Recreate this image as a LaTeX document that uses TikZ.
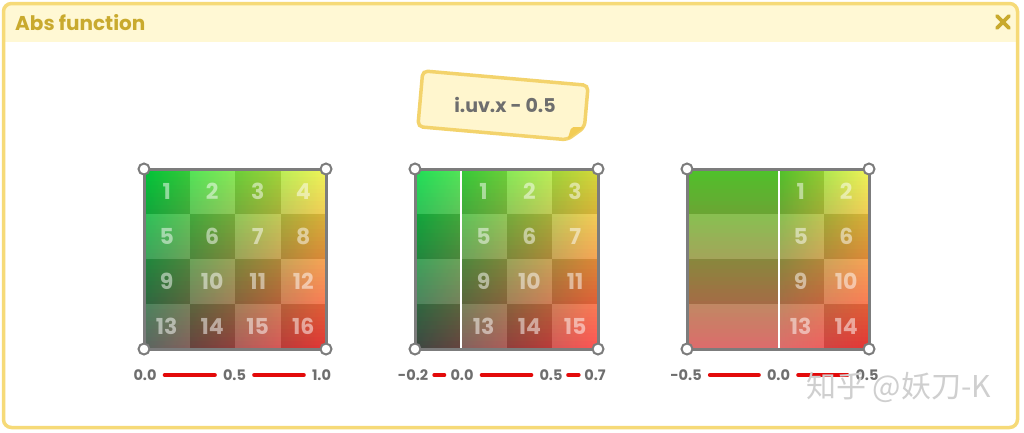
\documentclass[tikz,border=0pt]{standalone}
\usepackage{fontspec}
\setmainfont{Poppins}
\newfontfamily\cjk{Noto Sans CJK SC}
\definecolor{frameY}{HTML}{F6DA78}
\definecolor{barY}{HTML}{FFF8D4}
\definecolor{titleY}{HTML}{C9AA2E}
\definecolor{noteFill}{HTML}{FFF6CE}
\definecolor{noteLine}{HTML}{F3D36C}
\definecolor{foldY}{HTML}{F2CC55}
\definecolor{gridGray}{HTML}{7C7C7C}
\definecolor{txtGray}{HTML}{6E6E6E}
\definecolor{axisRed}{HTML}{E30A0A}
\definecolor{wmGray}{HTML}{CFCFCF}
\definecolor{gTL}{HTML}{00DC40}
\definecolor{gTR}{HTML}{EEF440}
\definecolor{gBL}{HTML}{44504A}
\definecolor{gBR}{HTML}{FF3C3C}
\definecolor{hTL}{HTML}{58D830}
\definecolor{hTR}{HTML}{EEF440}
\definecolor{hBL}{HTML}{D85858}
\definecolor{hBR}{HTML}{FF3C3C}
\newcommand\bilinpatch[8]{%
  \foreach \k in {0,...,44}{%
    \pgfmathsetmacro\pa{100*(\k+0.5)/45}%
    \colorlet{cL}{#7!\pa!#5}%
    \colorlet{cR}{#8!\pa!#6}%
    \pgfmathsetmacro\ya{#2+(#4-#2)*\k/45}%
    \pgfmathsetmacro\yb{#2+(#4-#2)*(\k+1)/45+0.7}%
    \fill[left color=cL,right color=cR] (#1,\ya) rectangle (#3,\yb);
  }}
\tikzset{
  cell0/.style={fill=black,fill opacity=0.10},
  cell1/.style={fill=white,fill opacity=0.12},
  num/.style={font=\bfseries\fontsize{22}{22}\selectfont,text=white,text opacity=0.5,inner sep=0},
  axlab/.style={font=\bfseries\fontsize{14.5}{14.5}\selectfont,text=txtGray,inner sep=0},
  axline/.style={draw=axisRed,line width=4,line cap=round,shorten <=8,shorten >=8},
  gframe/.style={draw=gridGray,line width=3},
  handle/.style={circle,draw=gridGray,fill=white,line width=2,inner sep=0,minimum size=11},
  divider/.style={draw=white,line width=2.5},
}
\begin{document}
\begin{tikzpicture}[x=1pt,y=-1pt]
\useasboundingbox (0,0) rectangle (1024,432);
\fill[white] (0,0) rectangle (1024,432);
% outer panel
\begin{scope}
\clip[rounded corners=8] (3.5,3.5) rectangle (1017.5,427.5);
\fill[barY] (0,0) rectangle (1024,42);
\end{scope}
\draw[frameY,line width=3.5,rounded corners=8] (3.5,3.5) rectangle (1017.5,427.5);
\node[anchor=west,inner sep=0,font=\bfseries\fontsize{20}{20}\selectfont,text=titleY] (title) at (15,23) {Abs function};
\draw[titleY,line width=3.8,line cap=round] (997,16) -- (1009,28) (1009,16) -- (997,28);
% note
\begin{scope}[shift={(503,106)},rotate=-5]
\draw[noteLine,fill=noteFill,line width=3.5,rounded corners=5] (-83,-28) -- (83,-28) -- (83,14) -- (67,28) -- (-83,28) -- cycle;
\fill[foldY,rounded corners=2] (83,14) -- (67,28) -- (70,15) -- cycle;
\end{scope}
\node[font=\bfseries\fontsize{19}{19}\selectfont,text=txtGray] (note) at (505,105) {i.uv.x - 0.5};
% ---------- grid 1
\bilinpatch{144}{169}{326}{349}{gTL}{gTR}{gBL}{gBR}
\foreach \r in {0,...,3}{\foreach \c in {0,...,3}{
  \pgfmathtruncatemacro\pq{mod(\r+\c,2)}
  \fill[cell\pq] ({144+45.5*\c},{169+45*\r}) rectangle ({144+45.5*(\c+1)},{169+45*(\r+1)});
  \pgfmathtruncatemacro\nn{4*\r+\c+1}
  \node[num] (ga\nn) at ({144+45.5*(\c+0.5)},{169+45*(\r+0.5)}) {\nn};
}}
\draw[gframe] (144,169) rectangle (326,349);
\foreach \p/\q in {a/{144,169},b/{326,169},c/{144,349},d/{326,349}}{\node[handle] (ha\p) at (\q) {};}
\node[axlab] (a1) at (145,375) {0.0};
\node[axlab] (a2) at (234.5,375) {0.5};
\node[axlab] (a3) at (321.5,375) {1.0};
\draw[axline] (a1) -- (a2);
\draw[axline] (a2) -- (a3);
% ---------- grid 2
\bilinpatch{415}{169}{598}{349}{gTL}{gTR}{gBL}{gBR}
\foreach \r in {0,...,3}{
  \pgfmathtruncatemacro\pq{mod(\r+1,2)}
  \fill[cell\pq] (415,{169+45*\r}) rectangle (460.75,{169+45*(\r+1)});
  \foreach \c in {1,...,3}{
  \pgfmathtruncatemacro\pq{mod(\r+\c+1,2)}
  \fill[cell\pq] ({415+45.75*\c},{169+45*\r}) rectangle ({415+45.75*(\c+1)},{169+45*(\r+1)});
  \pgfmathtruncatemacro\nn{4*\r+\c}
  \node[num] (gb\nn) at ({415+45.75*(\c+0.5)},{169+45*(\r+0.5)}) {\nn};
}}
\draw[divider] (461,170) -- (461,348);
\draw[gframe] (415,169) rectangle (598,349);
\foreach \p/\q in {a/{415,169},b/{598,169},c/{415,349},d/{598,349}}{\node[handle] (hb\p) at (\q) {};}
\node[axlab] (b1) at (413,375) {-0.2};
\node[axlab] (b2) at (462,375) {0.0};
\node[axlab] (b3) at (551,375) {0.5};
\node[axlab] (b4) at (595,375) {0.7};
\draw[axline,shorten <=6,shorten >=6] (b1) -- (b2);
\draw[axline] (b2) -- (b3);
\draw[axline,shorten <=5.5,shorten >=5.5] (b3) -- (b4);
% ---------- grid 3
\bilinpatch{687}{169}{779}{349}{hTL}{hTL}{hBL}{hBL}
\bilinpatch{778.5}{169}{869}{349}{hTL}{hTR}{hBL}{hBR}
\foreach \r in {0,...,3}{
  \pgfmathtruncatemacro\pq{mod(\r,2)}
  \fill[cell\pq] (687,{169+45*\r}) rectangle (778,{169+45*(\r+1)});
  \foreach \c in {2,3}{
  \pgfmathtruncatemacro\pq{mod(\r+\c,2)}
  \fill[cell\pq] ({687+45.5*\c},{169+45*\r}) rectangle ({687+45.5*(\c+1)},{169+45*(\r+1)});
  \pgfmathtruncatemacro\nn{4*\r+\c-1}
  \node[num] (gc\nn) at ({687+45.5*(\c+0.5)},{169+45*(\r+0.5)}) {\nn};
}}
\draw[divider] (779,170) -- (779,348);
\draw[gframe] (687,169) rectangle (869,349);
\foreach \p/\q in {a/{687,169},b/{869,169},c/{687,349},d/{869,349}}{\node[handle] (hc\p) at (\q) {};}
\node[axlab] (c1) at (686,375) {-0.5};
\node[axlab] (c2) at (778.5,375) {0.0};
\node[axlab] (c3) at (867,375) {0.5};
\draw[axline] (c1) -- (c2);
\draw[axline] (c2) -- (c3);
% watermark
\node[anchor=west,inner sep=0,font=\cjk\fontsize{30}{30}\selectfont,text=wmGray] (wm) at (806,387) {知乎 @妖刀-K};
\end{tikzpicture}
\end{document}
